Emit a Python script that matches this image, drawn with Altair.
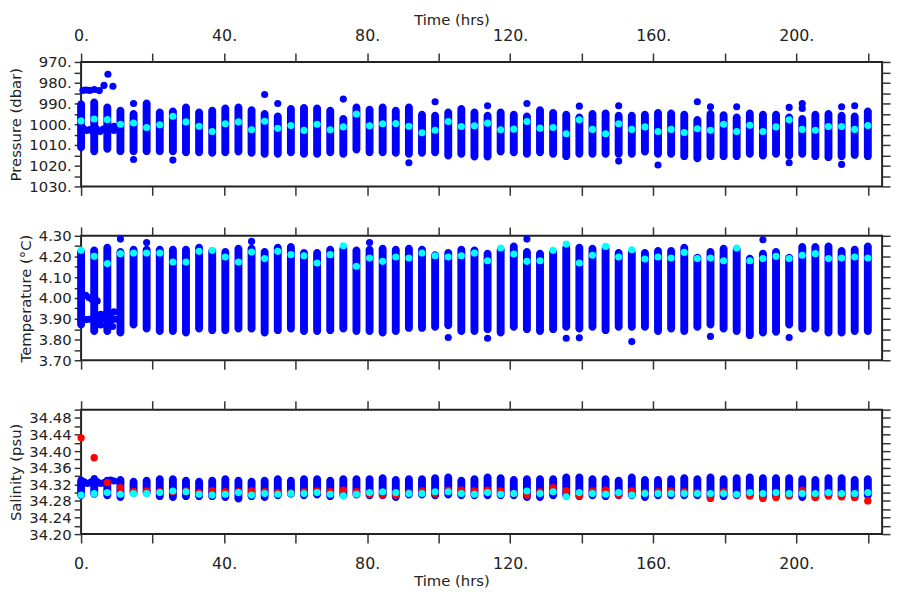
import altair as alt
import pandas as pd

# ---------------- data ----------------
TIME = [0.0, 3.67, 7.33, 11.0, 14.67, 18.33, 22.0, 25.67, 29.33, 33.0,
        36.67, 40.33, 44.0, 47.67, 51.33, 55.0, 58.67, 62.33, 66.0, 69.67,
        73.33, 77.0, 80.67, 84.33, 88.0, 91.67, 95.33, 99.0, 102.67, 106.33,
        110.0, 113.67, 117.33, 121.0, 124.67, 128.33, 132.0, 135.67, 139.33, 143.0,
        146.67, 150.33, 154.0, 157.67, 161.33, 165.0, 168.67, 172.33, 176.0, 179.67,
        183.33, 187.0, 190.67, 194.33, 198.0, 201.67, 205.33, 209.0, 212.67, 216.33,
        220.0]

# Pressure (dbar)
P_TOP = [988.4, 987.6, 990.0, 991.6, 993.2, 988.1, 992.4, 991.9, 990.0, 992.4,
         991.6, 990.5, 990.0, 991.3, 993.2, 994.4, 990.8, 990.3, 990.5, 991.6,
         995.6, 990.0, 991.1, 990.0, 991.6, 990.0, 993.5, 994.0, 992.4, 990.8,
         992.4, 994.0, 992.4, 993.5, 994.4, 991.3, 992.7, 993.5, 994.8, 993.2,
         992.9, 994.0, 994.0, 993.5, 992.7, 992.9, 993.5, 996.0, 993.2, 993.7,
         994.8, 992.9, 993.5, 993.5, 994.8, 995.6, 993.5, 993.2, 994.0, 994.4,
         991.9]
P_BOT = [1013.0, 1015.0, 1013.8, 1014.9, 1014.9, 1014.9, 1014.9, 1014.9, 1015.4, 1015.4,
         1015.7, 1015.4, 1015.1, 1015.7, 1016.2, 1016.2, 1015.4, 1016.2, 1016.2, 1015.4,
         1016.2, 1014.1, 1015.4, 1015.4, 1015.7, 1016.2, 1015.7, 1015.4, 1017.0, 1016.2,
         1017.5, 1017.5, 1015.1, 1015.4, 1016.2, 1015.4, 1016.2, 1017.3, 1016.2, 1016.2,
         1016.2, 1016.2, 1016.2, 1015.1, 1016.2, 1016.2, 1017.3, 1018.3, 1017.3, 1017.3,
         1017.3, 1016.2, 1017.0, 1016.2, 1017.0, 1016.2, 1017.3, 1017.8, 1017.3, 1016.7,
         1017.3]
P_MEAN = [998.4, 997.5, 997.8, 1000.0, 999.4, 1001.6, 1000.3, 996.2, 998.9, 1001.0,
          1003.5, 999.8, 998.9, 1002.7, 998.6, 1002.0, 1000.6, 1003.0, 1000.0, 1002.7,
          1001.3, 995.1, 1000.8, 999.8, 999.7, 1001.0, 1004.1, 1002.9, 998.7, 1001.1,
          1000.8, 999.5, 1002.7, 1002.4, 998.7, 1001.9, 1001.6, 1004.6, 997.9, 1002.5,
          1004.6, 999.8, 1002.5, 1001.3, 1003.5, 1002.5, 1004.0, 1002.2, 1002.9, 1000.0,
          1003.5, 1000.5, 1003.5, 1001.3, 997.9, 1002.5, 1002.9, 1001.1, 1001.1, 1002.5,
          1000.6]
P_OUT_T = [14.67, 14.67, 25.67, 51.33, 55.0, 73.33, 91.67, 99.0, 113.67, 124.67,
           139.33, 150.33, 150.33, 161.33, 172.33, 176.0, 183.33, 198.0, 198.0, 201.67,
           201.67, 212.67, 212.67, 216.33]
P_OUT_V = [990.0, 1017.0, 1017.3, 985.7, 990.0, 987.9, 1018.6, 989.2, 991.1, 990.0,
           991.3, 991.1, 1017.8, 1019.7, 989.2, 991.6, 991.6, 991.9, 1018.6, 990.0,
           992.4, 991.6, 1019.4, 991.1]
P_EARLY_T = [0.5, 1.4, 2.4, 3.7, 5.1, 6.4, 7.5, 8.9, 0.6, 1.5,
             2.4, 3.2, 4.3, 5.3, 6.2, 7.2, 8.2, 9.2, 9.2]
P_EARLY_V = [983.7, 983.5, 983.7, 983.3, 983.8, 981.3, 975.9, 981.7, 1002.0, 1003.0,
             1002.6, 1003.4, 1002.2, 1003.5, 1002.4, 1001.8, 1002.2, 1001.0, 1003.0]

# Temperature (deg C)
T_TOP = [4.241, 4.249, 4.262, 4.241, 4.252, 4.252, 4.252, 4.252, 4.252, 4.262,
         4.246, 4.241, 4.257, 4.257, 4.241, 4.262, 4.265, 4.236, 4.236, 4.252,
         4.257, 4.249, 4.252, 4.257, 4.252, 4.257, 4.252, 4.225, 4.236, 4.252,
         4.249, 4.233, 4.252, 4.268, 4.241, 4.233, 4.241, 4.262, 4.262, 4.257,
         4.257, 4.236, 4.236, 4.236, 4.246, 4.246, 4.262, 4.214, 4.241, 4.257,
         4.252, 4.209, 4.233, 4.241, 4.214, 4.265, 4.265, 4.268, 4.246, 4.252,
         4.268]
T_BOT = [3.853, 3.822, 3.822, 3.815, 3.853, 3.834, 3.822, 3.822, 3.815, 3.834,
         3.826, 3.826, 3.834, 3.834, 3.815, 3.826, 3.834, 3.822, 3.822, 3.826,
         3.834, 3.822, 3.822, 3.815, 3.822, 3.837, 3.837, 3.842, 3.850, 3.822,
         3.822, 3.831, 3.815, 3.842, 3.831, 3.822, 3.831, 3.842, 3.834, 3.842,
         3.826, 3.842, 3.842, 3.842, 3.822, 3.834, 3.822, 3.842, 3.853, 3.834,
         3.822, 3.802, 3.815, 3.818, 3.853, 3.834, 3.834, 3.815, 3.815, 3.822,
         3.822]
T_MEAN = [4.230, 4.201, 4.166, 4.214, 4.217, 4.217, 4.217, 4.174, 4.174, 4.225,
          4.230, 4.198, 4.174, 4.222, 4.190, 4.225, 4.209, 4.204, 4.169, 4.209,
          4.252, 4.153, 4.193, 4.177, 4.198, 4.193, 4.217, 4.204, 4.198, 4.204,
          4.217, 4.180, 4.241, 4.212, 4.177, 4.180, 4.230, 4.260, 4.169, 4.206,
          4.249, 4.198, 4.233, 4.188, 4.198, 4.193, 4.220, 4.190, 4.193, 4.180,
          4.241, 4.180, 4.190, 4.201, 4.190, 4.206, 4.214, 4.190, 4.193, 4.198,
          4.193]
T_OUT_T = [11.0, 18.33, 47.67, 80.67, 102.67, 113.67, 124.67, 135.67, 139.33, 154.0,
           176.0, 190.67, 198.0]
T_OUT_V = [4.284, 4.268, 4.273, 4.268, 3.810, 3.806, 4.284, 3.806, 3.808, 3.790,
           3.815, 4.281, 3.810]
T_EARLY_T = [0.5, 1.3, 2.2, 3.0, 3.7, 4.5, 0.0, 1.4, 2.3, 3.7,
             5.0, 6.0, 7.4, 8.7, 9.5, 5.5, 6.9, 8.3, 9.2, 5.5, 8.8]
T_EARLY_V = [4.017, 4.013, 4.002, 3.994, 3.990, 3.986, 3.898, 3.896, 3.898, 3.895,
             3.898, 3.900, 3.898, 3.896, 3.898, 3.922, 3.922, 3.925, 3.933, 3.870, 3.863]

# Salinity (psu)
S_TOP = [34.336, 34.336, 34.338, 34.340, 34.336, 34.338, 34.342, 34.342, 34.338, 34.336,
         34.338, 34.342, 34.338, 34.336, 34.338, 34.342, 34.338, 34.342, 34.342, 34.338,
         34.342, 34.342, 34.342, 34.344, 34.340, 34.342, 34.342, 34.344, 34.346, 34.338,
         34.342, 34.346, 34.344, 34.340, 34.342, 34.342, 34.342, 34.346, 34.346, 34.342,
         34.342, 34.338, 34.346, 34.340, 34.340, 34.342, 34.344, 34.342, 34.346, 34.342,
         34.344, 34.346, 34.344, 34.344, 34.344, 34.342, 34.340, 34.344, 34.344, 34.340,
         34.342]
S_BOT = [34.284, 34.288, 34.284, 34.280, 34.290, 34.290, 34.282, 34.280, 34.282, 34.282,
         34.282, 34.280, 34.276, 34.282, 34.280, 34.284, 34.288, 34.284, 34.286, 34.282,
         34.284, 34.286, 34.284, 34.284, 34.280, 34.286, 34.286, 34.284, 34.286, 34.284,
         34.284, 34.284, 34.284, 34.284, 34.280, 34.280, 34.284, 34.284, 34.282, 34.284,
         34.282, 34.284, 34.284, 34.280, 34.284, 34.284, 34.284, 34.284, 34.280, 34.282,
         34.284, 34.284, 34.280, 34.282, 34.284, 34.280, 34.280, 34.284, 34.282, 34.280,
         34.284]
S_RED = [34.432, 34.384, 34.324, 34.312, 34.303, 34.304, 34.302, 34.302, 34.304, 34.300,
         34.304, 34.302, 34.302, 34.304, 34.302, 34.300, 34.300, 34.302, 34.304, 34.302,
         34.306, 34.302, 34.296, 34.294, 34.294, 34.300, 34.304, 34.298, 34.306, 34.306,
         34.304, 34.306, 34.304, 34.298, 34.294, 34.302, 34.312, 34.304, 34.292, 34.304,
         34.306, 34.294, 34.304, 34.300, 34.302, 34.304, 34.302, 34.300, 34.286, 34.302,
         34.294, 34.292, 34.286, 34.288, 34.292, 34.306, 34.288, 34.292, 34.290, 34.288,
         34.280]
S_MEAN = [34.294, 34.298, 34.300, 34.296, 34.298, 34.298, 34.300, 34.304, 34.302, 34.296,
          34.294, 34.296, 34.300, 34.294, 34.298, 34.296, 34.298, 34.298, 34.300, 34.296,
          34.292, 34.296, 34.300, 34.302, 34.300, 34.298, 34.298, 34.302, 34.302, 34.298,
          34.296, 34.300, 34.296, 34.298, 34.304, 34.298, 34.302, 34.290, 34.300, 34.298,
          34.296, 34.300, 34.294, 34.298, 34.298, 34.298, 34.298, 34.298, 34.298, 34.298,
          34.296, 34.300, 34.298, 34.300, 34.298, 34.298, 34.298, 34.300, 34.298, 34.298,
          34.300]
S_EARLY_T = [0.0, 0.9, 1.8, 2.8, 3.7, 4.6, 5.5, 6.4, 7.3, 8.3, 9.2]
S_EARLY_V = [34.330, 34.326, 34.322, 34.326, 34.334, 34.326, 34.322, 34.324, 34.328, 34.330, 34.328]

# axis tick values
X_TICKS = [0, 20, 40, 60, 80, 100, 120, 140, 160, 180, 200, 220]
P_TICKS = [970, 975, 980, 985, 990, 995, 1000, 1005, 1010, 1015, 1020, 1025, 1030]
T_TICKS = [3.70, 3.75, 3.80, 3.85, 3.90, 3.95, 4.00, 4.05, 4.10, 4.15, 4.20, 4.25, 4.30]
S_TICKS = [34.20, 34.22, 34.24, 34.26, 34.28, 34.30, 34.32, 34.34, 34.36, 34.38,
           34.40, 34.42, 34.44, 34.46, 34.48, 34.50]

BLUE = "#0000ff"
CYAN = "#00ffff"
RED = "#ff0000"
FONT = "DejaVu Sans"

X_SCALE = alt.Scale(domain=[0, 224], nice=False, zero=False, padding=0)
X_EXPR = "datum.value % 40 == 0 ? datum.value + '.' : ''"


def x_axis(orient, show):
    kw = dict(orient=orient, values=X_TICKS, tickSize=9, labelOverlap=False,
              labelFlush=False, domain=False, grid=False)
    if show:
        kw.update(labelExpr=X_EXPR, title="Time (hrs)", titleX=375,
                  titleFontSize=15, labelFontSize=16)
        if orient == "top":
            kw.update(labelPadding=10, titlePadding=0)
        else:
            kw.update(labelPadding=13, titlePadding=2)
    else:
        kw.update(labels=False, title=None)
    return alt.Axis(**kw)


def y_left(ticks, expr, title):
    return alt.Axis(orient="left", values=ticks, labelExpr=expr, title=title,
                    tickSize=7, labelPadding=3, titlePadding=5,
                    labelOverlap=False, labelFlush=False, domain=False, grid=False)


def y_right(ticks):
    return alt.Axis(orient="right", values=ticks, labels=False, title=None,
                    tickSize=8, domain=False, grid=False)


def panel(top, bot, mean, out_t, out_v, early_t, early_v, domain, reverse,
          ticks, expr, title, top_lab, bot_lab, red=None):
    y_scale = alt.Scale(domain=domain, nice=False, zero=False, reverse=reverse)
    df_s = pd.DataFrame({"t": TIME, "lo": top, "hi": bot})
    df_m = pd.DataFrame({"t": TIME, "v": mean})
    df_o = pd.DataFrame({"t": out_t + early_t, "v": out_v + early_v})

    stripes = alt.Chart(df_s).mark_bar(
        color=BLUE, size=8, cornerRadius=4
    ).encode(
        x=alt.X("t:Q", scale=X_SCALE, axis=x_axis("top", top_lab)),
        y=alt.Y("lo:Q", scale=y_scale, axis=y_left(ticks, expr, title)),
        y2="hi:Q",
    )
    outl = alt.Chart(df_o).mark_circle(color=BLUE, size=52, opacity=1).encode(
        x=alt.X("t:Q", scale=X_SCALE, axis=None),
        y=alt.Y("v:Q", scale=y_scale, axis=None),
    )
    layers = [stripes, outl]
    if red is not None:
        df_r = pd.DataFrame({"t": TIME, "v": red})
        layers.append(
            alt.Chart(df_r).mark_circle(color=RED, size=56, opacity=1).encode(
                x=alt.X("t:Q", scale=X_SCALE, axis=None),
                y=alt.Y("v:Q", scale=y_scale, axis=None),
            )
        )
    means = alt.Chart(df_m).mark_circle(color=CYAN, size=52, opacity=1).encode(
        x=alt.X("t:Q", scale=X_SCALE, axis=x_axis("bottom", bot_lab)),
        y=alt.Y("v:Q", scale=y_scale, axis=y_right(ticks)),
    )
    layers.append(means)
    return alt.layer(*layers).resolve_axis(x="independent", y="independent").properties(
        width=811, height=126
    )


p_expr = "datum.value % 10 == 0 ? datum.value + '.' : ''"
t_expr = "round(datum.value * 100) % 10 == 0 ? format(datum.value, '.2f') : ''"
s_expr = "round(datum.value * 100) % 4 == 0 ? format(datum.value, '.2f') : ''"

p1 = panel(P_TOP, P_BOT, P_MEAN, P_OUT_T, P_OUT_V, P_EARLY_T, P_EARLY_V,
           [970, 1030], True, P_TICKS, p_expr, "Pressure (dbar)", True, False)
p2 = panel(T_TOP, T_BOT, T_MEAN, T_OUT_T, T_OUT_V, T_EARLY_T, T_EARLY_V,
           [3.70, 4.30], False, T_TICKS, t_expr, "Temperature (°C)", False, False)
p3 = panel(S_TOP, S_BOT, S_MEAN, [], [], S_EARLY_T, S_EARLY_V,
           [34.20, 34.50], False, S_TICKS, s_expr, "Salinity (psu)", False, True,
           red=S_RED)

chart = alt.vconcat(p1, p2, p3, spacing=50, bounds="flush").properties(
    padding={"top": 0, "bottom": 0, "left": 0, "right": 0}
).configure_view(
    stroke="#222222", strokeWidth=2
).configure_axis(
    tickColor="#333333", tickWidth=1.5,
    labelFont=FONT, labelFontSize=15, labelColor="#222222",
    titleFont=FONT, titleFontSize=15, titleColor="#222222", titleFontWeight="normal",
)

chart.save("out.html", embed_options={"renderer": "svg", "actions": False})
